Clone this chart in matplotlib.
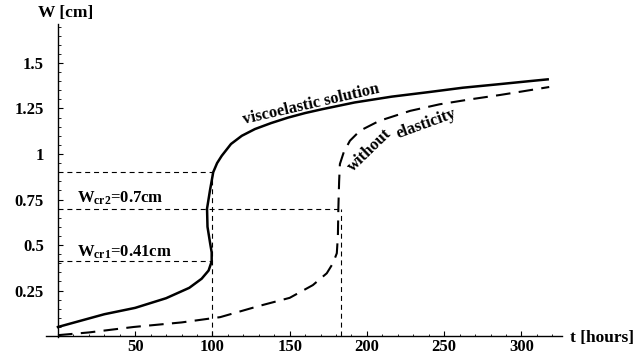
import matplotlib
matplotlib.use("Agg")
import matplotlib.pyplot as plt
from matplotlib.ticker import MultipleLocator

# --- data ---
visco_t = [0, 15, 30, 50, 70, 85, 93, 97.5, 99.5, 99.5, 98.5, 96.8, 96.5, 98.4,
           100.5, 103, 106, 112, 119, 127.5, 138, 149, 160, 171, 192, 216,
           240, 262, 285, 305, 317]
visco_w = [0.05, 0.085, 0.12, 0.155, 0.208, 0.265, 0.315, 0.36, 0.41, 0.46,
           0.51, 0.60, 0.70, 0.80, 0.90, 0.95, 0.99, 1.055, 1.10, 1.137, 1.17,
           1.20, 1.225, 1.246, 1.283, 1.315, 1.34, 1.364, 1.383, 1.40, 1.41]

elastic_t = [0, 20, 49, 80, 105, 130, 150, 165, 174, 178, 180.5, 181.2, 181.5,
             182, 182.5, 185, 189, 195.5, 208, 228, 247, 266.7, 286, 300, 318]
elastic_w = [0.005, 0.02, 0.05, 0.075, 0.104, 0.165, 0.21, 0.28, 0.345, 0.40,
             0.455, 0.55, 0.70, 0.85, 0.945, 1.01, 1.073, 1.128, 1.182, 1.237,
             1.273, 1.30, 1.324, 1.343, 1.368]

t_cr_visco = 100
t_cr_elastic = 183
w_top = 0.9
w_cr2 = 0.7
w_cr1 = 0.41

x_ticks = [50, 100, 150, 200, 250, 300]
y_ticks = [0.25, 0.5, 0.75, 1, 1.25, 1.5]
y_ticklabels = ["0.25", "0.5", "0.75", "1", "1.25", "1.5"]

plt.rcParams["font.family"] = "Liberation Serif"
plt.rcParams["font.weight"] = "bold"
plt.rcParams["mathtext.fontset"] = "custom"
plt.rcParams["mathtext.rm"] = "Liberation Serif:bold"
plt.rcParams["mathtext.it"] = "Liberation Serif:bold"
plt.rcParams["mathtext.bf"] = "Liberation Serif:bold"

fig = plt.figure(figsize=(6.36, 3.61), dpi=100)
ax = fig.add_axes([0.0717, 0.0665, 0.8113, 0.867])

# guide lines
guide = dict(color="black", lw=0.8, dashes=(4.5, 3.5))
ax.plot([0, t_cr_visco], [w_top, w_top], **guide)
ax.plot([0, t_cr_elastic], [w_cr2, w_cr2], **guide)
ax.plot([0, t_cr_visco], [w_cr1, w_cr1], **guide)
ax.plot([t_cr_visco, t_cr_visco], [0, w_top], **guide)
ax.plot([t_cr_elastic, t_cr_elastic], [0, w_cr2], **guide)

# curves
ax.plot(visco_t, visco_w, color="black", lw=1.8, solid_joinstyle="round")
ax.plot(elastic_t, elastic_w, color="black", lw=1.5, dashes=(7, 4))

# labels on curves
ax.text(164.7, 1.25, "viscoelastic solution", fontsize=12, rotation=13,
        ha="center", va="baseline", rotation_mode="anchor")
ax.text(202, 1.018, "without", fontsize=12, rotation=44,
        ha="center", va="center", rotation_mode="anchor")
ax.text(238, 1.166, "elasticity", fontsize=12, rotation=20,
        ha="center", va="center", rotation_mode="anchor")

ax.text(12.3, 0.733, r"W$_{\mathrm{cr2}}$=0.7cm", fontsize=12, va="baseline")
ax.text(12.3, 0.438, r"W$_{\mathrm{cr1}}$=0.41cm", fontsize=12, va="baseline")

# Mathematica-like axes
ax.set_xlim(-8, 326)
ax.set_ylim(-0.005, 1.714)
for s in ["top", "right"]:
    ax.spines[s].set_visible(False)
ax.spines["left"].set_position(("data", 0))
ax.spines["bottom"].set_position(("data", 0))
ax.spines["left"].set_linewidth(1.0)
ax.spines["bottom"].set_linewidth(1.0)

ax.set_xticks(x_ticks)
ax.set_yticks(y_ticks)
ax.set_yticklabels(y_ticklabels)
ax.xaxis.set_minor_locator(MultipleLocator(10))
ax.yaxis.set_minor_locator(MultipleLocator(0.05))
ax.tick_params(which="major", direction="in", length=3.5, width=0.8,
               labelsize=12)
ax.tick_params(which="minor", direction="in", length=1.8, width=0.6)
ax.tick_params(axis="y", pad=10)
ax.tick_params(axis="x", pad=2)

fig.text(38 / 636, 1 - 17 / 361, "W [cm]", fontsize=12.5, ha="left",
         va="baseline")
fig.text(570 / 636, 1 - 342 / 361, "t [hours]", fontsize=12.5, ha="left",
         va="baseline")

fig.savefig("out.png", dpi=100)
